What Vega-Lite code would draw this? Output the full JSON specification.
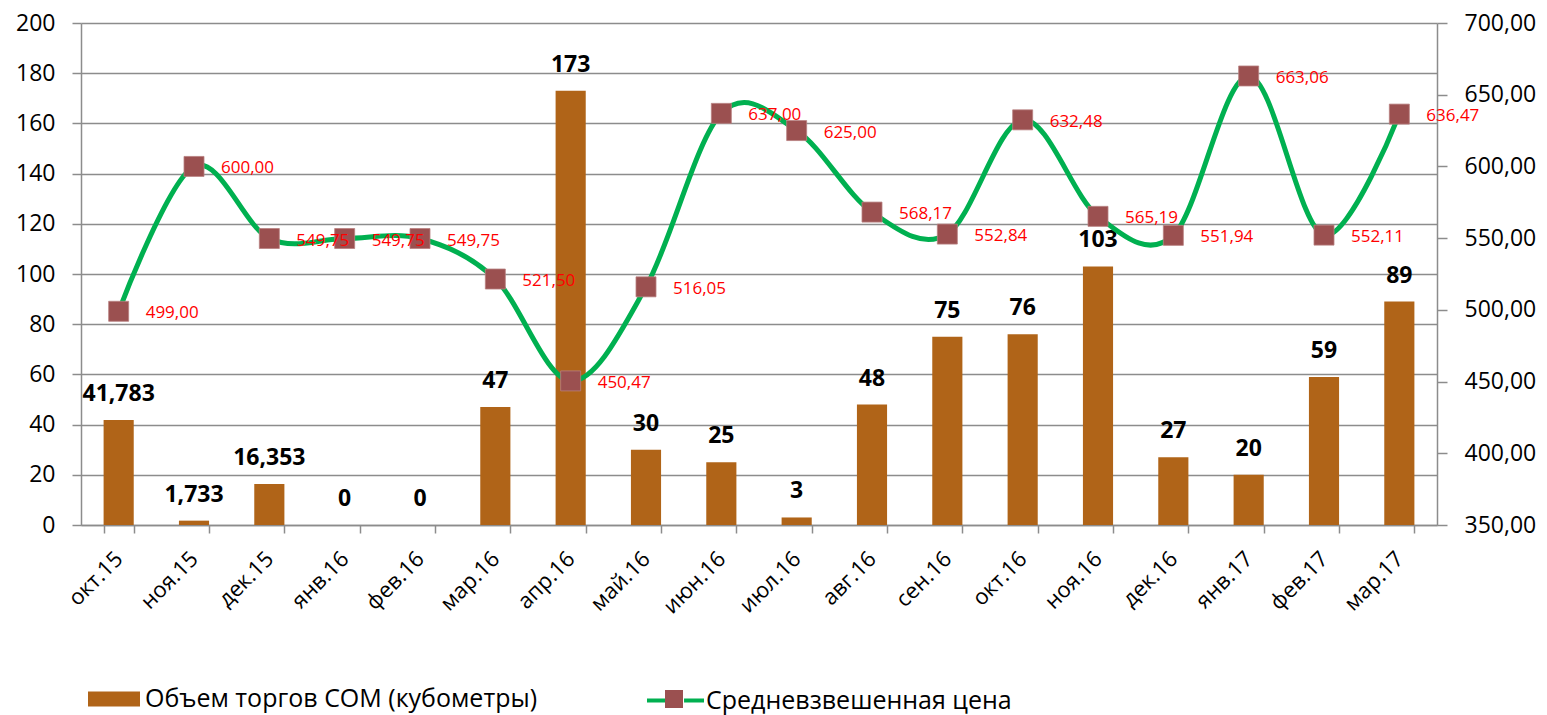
{
  "$schema": "https://vega.github.io/schema/vega-lite/v6.json",
  "width": 1356,
  "height": 502,
  "autosize": {"type": "none"},
  "padding": {"left": 81, "top": 23, "right": 110, "bottom": 190},
  "background": "white",
  "config": {
    "view": {"stroke": null},
    "font": "Open Sans",
    "locale": {"number": {"decimal": ",", "thousands": "\u00a0", "grouping": [3], "currency": ["", ""]}},
    "axis": {
      "labelFont": "Open Sans",
      "labelColor": "#000000",
      "labelFontSize": 22,
      "domainColor": "#8c8c8c",
      "tickColor": "#8c8c8c",
      "gridColor": "#8c8c8c",
      "domainWidth": 1.5,
      "tickWidth": 1.5,
      "gridWidth": 1.5,
      "title": null
    },
    "legend": {"labelFont": "Open Sans", "labelColor": "#000000", "labelLimit": 0, "padding": 0, "title": null}
  },
  "data": {
    "values": [
      {"month": "окт.15", "volume": 41.783, "price": 499.00},
      {"month": "ноя.15", "volume": 1.733, "price": 600.00},
      {"month": "дек.15", "volume": 16.353, "price": 549.75},
      {"month": "янв.16", "volume": 0, "price": 549.75},
      {"month": "фев.16", "volume": 0, "price": 549.75},
      {"month": "мар.16", "volume": 47, "price": 521.50},
      {"month": "апр.16", "volume": 173, "price": 450.47},
      {"month": "май.16", "volume": 30, "price": 516.05},
      {"month": "июн.16", "volume": 25, "price": 637.00},
      {"month": "июл.16", "volume": 3, "price": 625.00},
      {"month": "авг.16", "volume": 48, "price": 568.17},
      {"month": "сен.16", "volume": 75, "price": 552.84},
      {"month": "окт.16", "volume": 76, "price": 632.48},
      {"month": "ноя.16", "volume": 103, "price": 565.19},
      {"month": "дек.16", "volume": 27, "price": 551.94},
      {"month": "янв.17", "volume": 20, "price": 663.06},
      {"month": "фев.17", "volume": 59, "price": 552.11},
      {"month": "мар.17", "volume": 89, "price": 636.47}
    ]
  },
  "encoding": {
    "x": {
      "field": "month",
      "type": "ordinal",
      "sort": null,
      "scale": {"paddingInner": 0.6, "paddingOuter": 0.3},
      "axis": {
        "orient": "bottom",
        "tickBand": "extent",
        "tickSize": 8,
        "labelAngle": -45,
        "labelAlign": "right",
        "labelBaseline": "middle",
        "labelPadding": 22,
        "labelFontSize": 22
      }
    }
  },
  "layer": [
    {
      "encoding": {
        "y": {
          "field": "volume",
          "type": "quantitative",
          "scale": {"domain": [0, 200]},
          "axis": {
            "orient": "left",
            "values": [0, 20, 40, 60, 80, 100, 120, 140, 160, 180, 200],
            "grid": true,
            "tickSize": 9,
            "labelPadding": 17,
            "labelFontSize": 23,
            "format": "d"
          }
        }
      },
      "layer": [
        {
          "mark": {"type": "bar"},
          "encoding": {
            "fill": {
              "datum": "Объем торгов СОМ (кубометры)",
              "scale": {"range": ["#B06418"]},
              "legend": {
                "orient": "none",
                "legendX": 7,
                "legendY": 650,
                "title": null,
                "labelFontSize": 25,
                "labelOffset": 5,
                "symbolSize": 2704,
                "symbolType": "M-1,-0.29H1V0.29H-1Z",
                "symbolStrokeWidth": 0,
                "symbolOpacity": 1
              }
            }
          }
        },
        {
          "mark": {"type": "text", "baseline": "middle", "dy": -26, "fontSize": 23, "fontWeight": "bold", "color": "#000000", "font": "Open Sans"},
          "encoding": {
            "text": {"field": "volume", "type": "quantitative", "format": ".5~r"}
          }
        }
      ]
    },
    {
      "encoding": {
        "y": {
          "field": "price",
          "type": "quantitative",
          "scale": {"domain": [350, 700], "zero": false},
          "axis": {
            "orient": "right",
            "values": [350, 400, 450, 500, 550, 600, 650, 700],
            "grid": false,
            "tickSize": 10,
            "labelPadding": 17,
            "labelFontSize": 23,
            "format": ".2f"
          }
        }
      },
      "layer": [
        {
          "mark": {"type": "line", "interpolate": "cardinal", "strokeWidth": 5},
          "encoding": {
            "stroke": {
              "datum": "Средневзвешенная цена",
              "scale": {"range": ["#00B050"]},
              "legend": {
                "orient": "none",
                "legendX": 564,
                "legendY": 647,
                "title": null,
                "labelFontSize": 25,
                "labelOffset": 0,
                "symbolSize": 3249,
                "symbolType": "M-1,0H-0.3M0.3,0H1",
                "symbolStrokeWidth": 4,
                "symbolOpacity": 1
              }
            }
          }
        },
        {
          "mark": {"type": "point", "filled": true, "color": "#9B5050", "size": 400, "opacity": 1, "stroke": "#b88080", "strokeWidth": 0.8},
          "encoding": {
            "shape": {
              "datum": "маркер",
              "scale": {"range": ["square"]},
              "legend": {
                "orient": "none",
                "legendX": 584,
                "legendY": 667,
                "title": null,
                "labelExpr": "''",
                "labelOffset": 0,
                "labelFontSize": 1,
                "symbolSize": 324,
                "symbolFillColor": "#9B5050",
                "symbolStrokeWidth": 0,
                "symbolOpacity": 1
              }
            }
          }
        },
        {
          "mark": {"type": "text", "align": "left", "baseline": "middle", "dx": 27, "dy": 2, "fontSize": 17, "color": "#FF0000", "font": "Open Sans"},
          "encoding": {
            "text": {"field": "price", "type": "quantitative", "format": ".2f"}
          }
        }
      ]
    }
  ],
  "resolve": {"scale": {"y": "independent"}}
}
